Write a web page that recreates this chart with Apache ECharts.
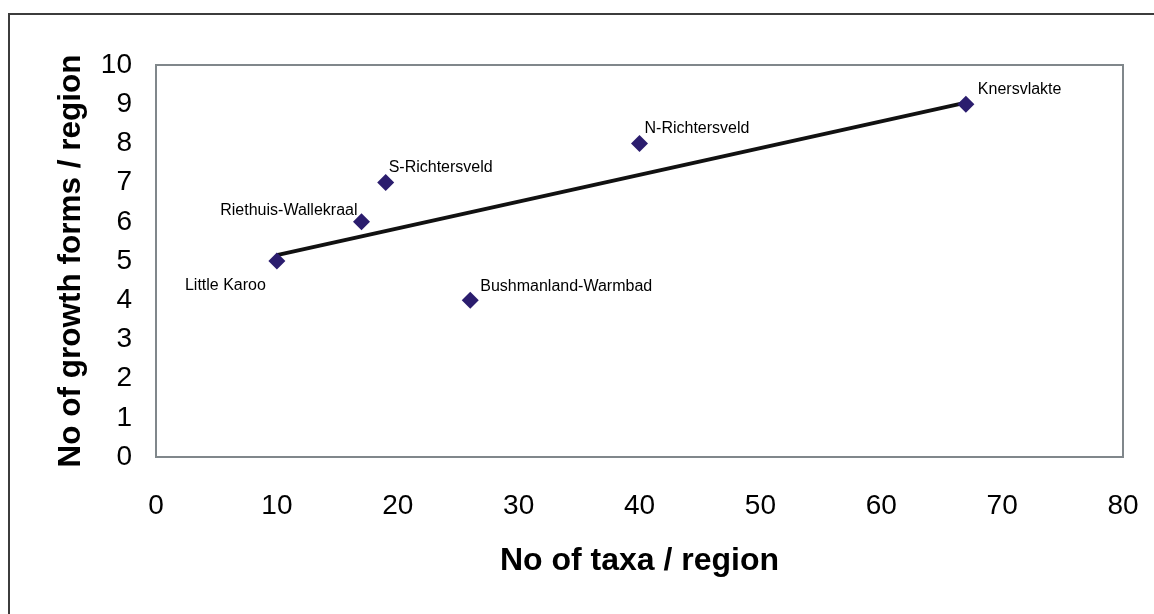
<!DOCTYPE html>
<html>
<head>
<meta charset="utf-8">
<script src="https://cdn.jsdelivr.net/npm/echarts@6/dist/echarts.min.js"></script>
<style>
html,body{margin:0;padding:0;background:#fff;}
#chart{width:1154px;height:614px;}
</style>
</head>
<body>
<div id="chart"></div>
<script>
// ---- data ----
const regionNames = ['Little Karoo','Riethuis-Wallekraal','S-Richtersveld','Bushmanland-Warmbad','N-Richtersveld','Knersvlakte'];
const taxaPerRegion = [10, 17, 19, 26, 40, 67];
const growthFormsPerRegion = [5, 6, 7, 4, 8, 9];
const trendTaxa = [10, 67];
const trendForms = [5.15, 9.04];
const xTicks = [0, 10, 20, 30, 40, 50, 60, 70, 80];
const yTicks = [0, 1, 2, 3, 4, 5, 6, 7, 8, 9, 10];

// label placement (style, kept separate from data)
const labelPlacement = {
  'Little Karoo': {align:'right', offset:[-11, 25]},
  'Riethuis-Wallekraal': {align:'right', offset:[-4, -11]},
  'S-Richtersveld': {align:'left', offset:[3, -15]},
  'Bushmanland-Warmbad': {align:'left', offset:[10, -14]},
  'N-Richtersveld': {align:'left', offset:[5, -15]},
  'Knersvlakte': {align:'left', offset:[12, -15]}
};

const FONT = "'Liberation Sans', Arial, sans-serif";
const pointData = regionNames.map((n, i) => ({
  name: n,
  value: [taxaPerRegion[i], growthFormsPerRegion[i]],
  label: {
    show: true,
    position: 'inside',
    align: labelPlacement[n].align,
    verticalAlign: 'middle',
    offset: labelPlacement[n].offset,
    formatter: n,
    color: '#000',
    opacity: 1,
    textBorderWidth: 0,
    fontSize: 16,
    fontFamily: FONT
  }
}));
const trendData = trendTaxa.map((x, i) => [x, trendForms[i]]);

const chart = echarts.init(document.getElementById('chart'), null, {renderer:'canvas'});
chart.setOption({
  animation: false,
  backgroundColor: '#fff',
  graphic: [{
    type: 'rect',
    shape: {x: 9, y: 14, width: 1300, height: 800},
    style: {fill: 'none', stroke: '#3c3c3c', lineWidth: 2},
    silent: true
  }],
  grid: {
    left: 156, right: 31, top: 65, bottom: 157,
    show: true, borderColor: '#80878b', borderWidth: 2, backgroundColor: '#fff'
  },
  xAxis: {
    type: 'value', min: xTicks[0], max: xTicks[xTicks.length-1], interval: 10,
    name: 'No of taxa / region', nameLocation: 'middle', nameGap: 88,
    nameTextStyle: {fontSize: 32, fontWeight: 'bold', color: '#000', fontFamily: FONT},
    axisLine: {show: false}, axisTick: {show: false}, splitLine: {show: false},
    axisLabel: {fontSize: 28, color: '#000', margin: 35, fontFamily: FONT}
  },
  yAxis: {
    type: 'value', min: yTicks[0], max: yTicks[yTicks.length-1], interval: 1,
    name: 'No of growth forms / region', nameLocation: 'middle', nameGap: 69,
    nameTextStyle: {fontSize: 31.5, fontWeight: 'bold', color: '#000', fontFamily: FONT},
    axisLine: {show: false}, axisTick: {show: false}, splitLine: {show: false},
    axisLabel: {fontSize: 28, color: '#000', margin: 24, fontFamily: FONT, padding: [3, 0, 0, 0]}
  },
  series: [
    {
      type: 'line',
      data: trendData,
      showSymbol: false,
      symbol: 'none',
      lineStyle: {color: '#111', width: 4},
      z: 2
    },
    {
      type: 'scatter',
      data: pointData,
      symbol: 'diamond',
      symbolSize: [17, 17],
      itemStyle: {color: '#2b1d6e', opacity: 1},
      z: 3
    }
  ]
});
</script>
</body>
</html>
